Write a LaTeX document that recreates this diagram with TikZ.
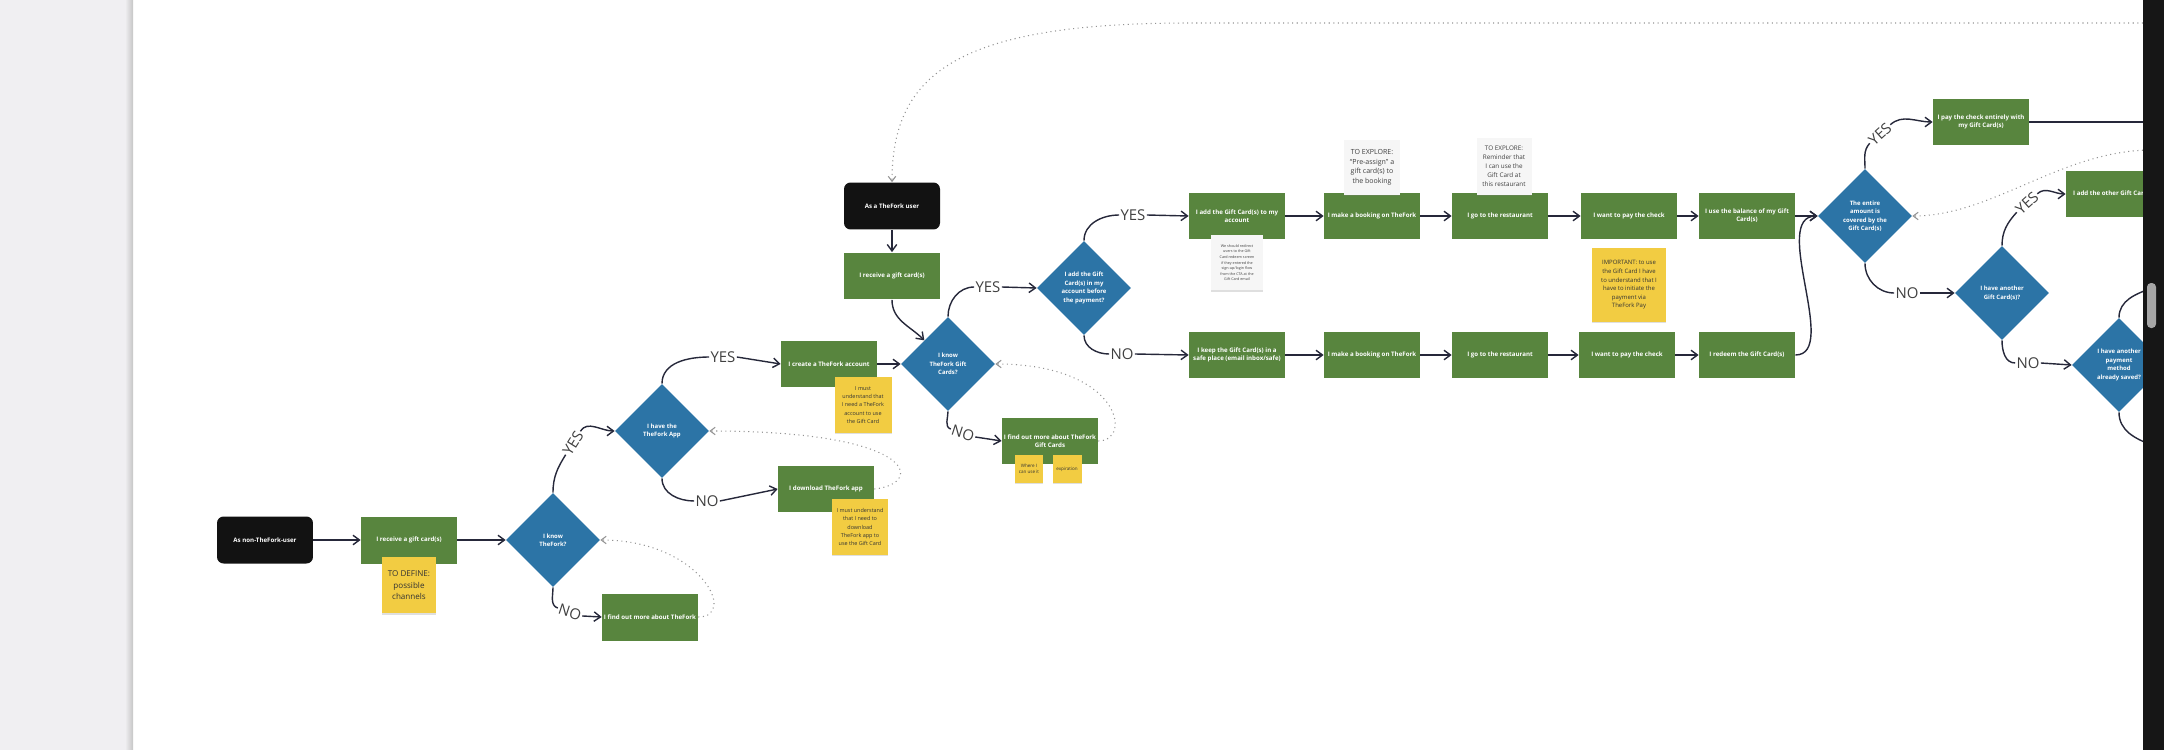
\documentclass[tikz,border=0pt]{standalone}
\usepackage{fontspec}
\setmainfont{Open Sans}
\usepackage{xcolor}
\usepackage{tikz}
\usetikzlibrary{arrows.meta,positioning,shapes.geometric,shadows}
\definecolor{forkgreen}{RGB}{88,133,62}
\definecolor{forkblue}{RGB}{44,116,166}
\definecolor{forkblack}{RGB}{18,18,18}
\definecolor{stickyyellow}{RGB}{242,204,66}
\definecolor{memowhite}{RGB}{246,246,246}
\definecolor{flowink}{RGB}{38,40,58}
\definecolor{panelgray}{RGB}{240,239,242}
\definecolor{screendark}{RGB}{22,22,22}

\begin{document}
\begin{tikzpicture}[
  x=0.02cm, y=-0.02cm,
  every node/.style={font=\fontsize{3.4}{4.7}\selectfont, align=center, inner sep=1pt},
  action/.style={rectangle, fill=forkgreen, text=white, font=\fontsize{3.5}{4.7}\selectfont\bfseries, minimum width=1.92cm, minimum height=0.94cm},
  persona/.style={action, fill=forkblack, rounded corners=0.13cm},
  decision/.style={diamond, fill=forkblue, text=white, font=\fontsize{3.4}{4.8}\selectfont\bfseries, minimum width=1.88cm, minimum height=1.88cm, inner sep=0pt},
  sticky/.style={rectangle, fill=stickyyellow, text=black!80, drop shadow={opacity=0.25, shadow xshift=0pt, shadow yshift=-0.8pt}},
  memo/.style={rectangle, fill=memowhite, text=black!75, drop shadow={opacity=0.25, shadow xshift=0pt, shadow yshift=-0.8pt}},
  answer/.style={font=\fontsize{8.5}{9}\selectfont, text=black!75, inner sep=0.6pt},
  arrow/.style={-{Straight Barb[length=1.3mm,width=1.9mm]}, line width=0.8pt, flowink},
  link/.style={line width=0.8pt, flowink},
  backlink/.style={-{Straight Barb[length=1mm,width=1.5mm]}, gray!85, dotted, line width=0.6pt}
]
\useasboundingbox (0,0) rectangle (2164,750);

% Side panel of the board
\fill[panelgray] (0,0) rectangle (131,750);
\shade[left color=panelgray, right color=gray!45] (125,0) rectangle (133,750);

% Non-user path
\node[persona] (nonUser) at (265,540) {As non-TheFork-user};
\node[action] (recvA) at (409,540) {I receive a gift card(s)};
\node[decision] (knowFork) at (553,540) {I know\\TheFork?};
\node[action] (findFork) at (650,617) {I find out more about TheFork};
\node[decision] (haveApp) at (662,431) {I have the\\TheFork App};
\node[action] (createAcc) at (829,364) {I create a TheFork account};
\node[action] (download) at (826,489) {I download TheFork app};

% TheFork user path
\node[persona] (forkUser) at (892,206) {As a TheFork user};
\node[action] (recvB) at (892,276) {I receive a gift card(s)};
\node[decision] (knowCards) at (948,364) {I know\\TheFork Gift\\Cards?};
\node[action] (findCards) at (1050,441) {I find out more about TheFork\\Gift Cards};
\node[decision] (addBefore) at (1084,288) {I add the Gift\\Card(s) in my\\account before\\the payment?};

% Top row: card added before
\node[action] (addCard) at (1237,216) {I add the Gift Card(s) to my\\account};
\node[action] (bookTop) at (1372,216) {I make a booking on TheFork};
\node[action] (goTop) at (1500,216) {I go to the restaurant};
\node[action] (payTop) at (1629,216) {I want to pay the check};
\node[action] (useBalance) at (1747,216) {I use the balance of my Gift\\Card(s)};

% Bottom row: card kept aside
\node[action] (keepCard) at (1237,355) {I keep the Gift Card(s) in a\\safe place (email inbox/safe)};
\node[action] (bookLow) at (1372,355) {I make a booking on TheFork};
\node[action] (goLow) at (1500,355) {I go to the restaurant};
\node[action] (payLow) at (1627,355) {I want to pay the check};
\node[action] (redeem) at (1747,355) {I redeem the Gift Card(s)};

% Payment decisions
\node[decision] (coveredQ) at (1865,216) {The entire\\amount is\\covered by the\\Gift Card(s)};
\node[action] (payAll) at (1981,122) {I pay the check entirely with\\my Gift Card(s)};
\node[decision] (anotherCardQ) at (2002,293) {I have another\\Gift Card(s)?};
\node[action] (addOther) at (2114,194) {I add the other Gift Card(s)};
\node[decision] (paymentQ) at (2119,365) {I have another\\payment\\method\\already saved?};

% YES / NO labels
\node[answer, rotate=58] (yesA) at (573,443) {YES};
\node[answer, rotate=-18] (noA) at (570,612) {NO};
\node[answer] (yesB) at (723,357) {YES};
\node[answer] (noB) at (707,501) {NO};
\node[answer] (yesC) at (988,287) {YES};
\node[answer, rotate=-18] (noC) at (963,433) {NO};
\node[answer] (yesD) at (1133,215) {YES};
\node[answer] (noD) at (1122,354) {NO};
\node[answer, rotate=42] (yesE) at (1880,134) {YES};
\node[answer] (noE) at (1907,293) {NO};
\node[answer, rotate=42] (yesF) at (2027,203) {YES};
\node[answer] (noF) at (2028,363) {NO};

% Free ends at the screen edge
\coordinate (payExit) at (2152,122);
\coordinate (sideEntry) at (2152,150);
\coordinate (topEntry) at (2152,23);
\coordinate (topBend) at (1190,23);
\coordinate (yesExit) at (2152,288);
\coordinate (noExit) at (2152,445);

% Flow: non-user
\draw[arrow] (nonUser.east) -- (recvA.west);
\draw[arrow] (recvA.east) -- (knowFork.west);
\draw[link] (knowFork.north) to[out=90,in=-122] (yesA.west);
\draw[arrow] (yesA.east) to[out=58,in=180] (haveApp.west);
\draw[link] (knowFork.south) to[out=-90,in=162] (noA.west);
\draw[arrow] (noA.east) -- (findFork.west);
\draw[link] (haveApp.north) to[out=90,in=180] (yesB.west);
\draw[arrow] (yesB.east) -- (createAcc.west);
\draw[link] (haveApp.south) to[out=-90,in=180] (noB.west);
\draw[arrow] (noB.east) -- (download.west);
\draw[arrow] (createAcc.east) -- (knowCards.west);

% Flow: TheFork user
\draw[arrow] (forkUser.south) -- (recvB.north);
\draw[arrow] (recvB.south) to[out=-90,in=135] (knowCards.north west);
\draw[link] (knowCards.north) to[out=90,in=180] (yesC.west);
\draw[arrow] (yesC.east) -- (addBefore.west);
\draw[link] (knowCards.south) to[out=-90,in=162] (noC.west);
\draw[arrow] (noC.east) -- (findCards.west);
\draw[link] (addBefore.north) to[out=90,in=180] (yesD.west);
\draw[arrow] (yesD.east) -- (addCard.west);
\draw[link] (addBefore.south) to[out=-90,in=180] (noD.west);
\draw[arrow] (noD.east) -- (keepCard.west);

% Rows
\draw[arrow] (addCard) -- (bookTop);
\draw[arrow] (bookTop) -- (goTop);
\draw[arrow] (goTop) -- (payTop);
\draw[arrow] (payTop) -- (useBalance);
\draw[arrow] (useBalance.east) -- (coveredQ.west);
\draw[arrow] (keepCard) -- (bookLow);
\draw[arrow] (bookLow) -- (goLow);
\draw[arrow] (goLow) -- (payLow);
\draw[arrow] (payLow) -- (redeem);
\draw[arrow] (redeem.east) .. controls +(45,0) and +(-48,0) .. (coveredQ.west);

% Flow: payment
\draw[link] (coveredQ.north) to[out=90,in=-132] (yesE.west);
\draw[arrow] (yesE.east) to[out=42,in=180] (payAll.west);
\draw[link] (payAll.east) -- (payExit);
\draw[link] (coveredQ.south) to[out=-90,in=180] (noE.west);
\draw[arrow] (noE.east) -- (anotherCardQ.west);
\draw[link] (anotherCardQ.north) to[out=90,in=-132] (yesF.west);
\draw[arrow] (yesF.east) to[out=42,in=180] (addOther.west);
\draw[link] (anotherCardQ.south) to[out=-90,in=180] (noF.west);
\draw[arrow] (noF.east) -- (paymentQ.west);
\draw[link] (paymentQ.north) to[out=90,in=200] (yesExit);
\draw[link] (paymentQ.south) to[out=-90,in=160] (noExit);

% Loop backs
\draw[backlink] (findFork.east) .. controls +(40,0) and +(100,0) .. (knowFork.east);
\draw[backlink] (download.east) .. controls +(50,-5) and +(210,0) .. (haveApp.east);
\draw[backlink] (findCards.east) .. controls +(35,0) and +(125,0) .. (knowCards.east);
\draw[backlink] (topEntry) -- (topBend) .. controls +(-230,0) and +(0,-110) .. (forkUser.north);
\draw[backlink] (sideEntry) .. controls +(-90,0) and +(80,0) .. (coveredQ.east);

% Sticky notes
\node[sticky, font=\fontsize{4.6}{6.6}\selectfont, minimum width=1.1cm, minimum height=1.12cm, below=-0.14cm of recvA] (defineNote) {TO DEFINE:\\possible\\channels};
\node[sticky, font=\fontsize{3.1}{4.6}\selectfont, minimum width=1.14cm, minimum height=1.12cm] (accNote) at (863,405) {I must\\understand that\\I need a TheFork\\account to use\\the Gift Card};
\node[sticky, font=\fontsize{3.1}{4.6}\selectfont, minimum width=1.12cm, minimum height=1.12cm] (appNote) at (860,527) {I must understand\\that I need to\\download\\TheFork app to\\use the Gift Card};
\node[sticky, font=\fontsize{2.6}{3.4}\selectfont, minimum width=0.56cm, minimum height=0.56cm] (whereNote) at (1029,469) {Where I\\can use it};
\node[sticky, font=\fontsize{2.6}{3.4}\selectfont, minimum width=0.58cm, minimum height=0.56cm] (expiryNote) at (1067,469) {expiration};
\node[sticky, font=\fontsize{3.4}{4.9}\selectfont, minimum width=1.48cm, minimum height=1.48cm] (importantNote) at (1629,285) {IMPORTANT: to use\\the Gift Card I have\\to understand that I\\have to initiate the\\payment via\\TheFork Pay};

% Memo notes
\node[memo, font=\fontsize{2.1}{3.2}\selectfont, minimum width=1.04cm, minimum height=1.1cm, below=-0.1cm of addCard] (redirectNote) {We should redirect\\users to the Gift\\Card redeem screen\\if they entered the\\sign-up/login flow\\from the CTA at the\\Gift Card email};
\node[memo, font=\fontsize{4}{5.5}\selectfont, minimum width=1.12cm, minimum height=1.1cm, above=-0.06cm of bookTop] (preassignNote) {TO EXPLORE:\\``Pre-assign'' a\\gift card(s) to\\the booking};
\node[memo, font=\fontsize{3.6}{5.2}\selectfont, minimum width=1.1cm, minimum height=1.14cm, above=-0.06cm of goTop, xshift=0.08cm] (reminderNote) {TO EXPLORE:\\Reminder that\\I can use the\\Gift Card at\\this restaurant};

% Screen edge and scroll bar
\fill[screendark] (2143,0) rectangle (2164,750);
\fill[gray!70, rounded corners=0.08cm] (2147,283) rectangle (2156,328);

\end{tikzpicture}
\end{document}
